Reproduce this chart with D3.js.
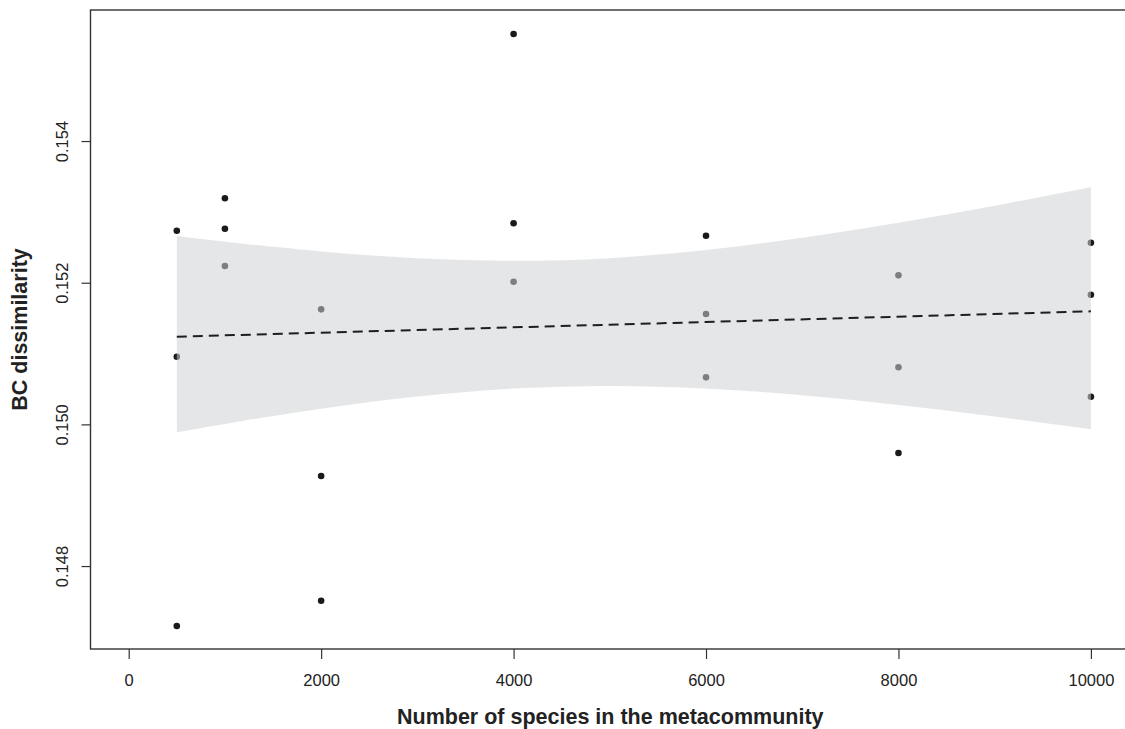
<!DOCTYPE html>
<html>
<head>
<meta charset="utf-8">
<script src="https://cdn.jsdelivr.net/npm/d3@7"></script>
<style>
  body { margin: 0; background: #fff; }
  svg { display: block; font-family: "Liberation Sans", Arial, sans-serif; }
</style>
</head>
<body>
<script>
// species pool sizes and the BC dissimilarity of each run
var speciesX = [500, 500, 500, 1000, 1000, 1000, 2000, 2000, 2000,
    4000, 4000, 4000, 6000, 6000, 6000, 8000, 8000, 8000, 10000, 10000, 10000];
var dissimY = [0.152734, 0.150955, 0.147153, 0.153192, 0.152762, 0.152236,
    0.151624, 0.149271, 0.147510, 0.155511, 0.152839, 0.152014,
    0.152664, 0.151558, 0.150664, 0.152104, 0.150806, 0.149596,
    0.152565, 0.151831, 0.150391];

// fitted line end points
var fitX = [500, 10000];
var fitY = [0.151238, 0.151596];

// confidence band
var bandX = [500, 1000, 2000, 3000, 4000, 5000, 6000, 7000, 8000, 9000, 10000];
var bandUpper = [0.152658, 0.152579, 0.152442, 0.152346, 0.152309, 0.152347,
    0.152462, 0.152634, 0.152847, 0.153087, 0.153347];
var bandLower = [0.149888, 0.150007, 0.150220, 0.150392, 0.150505, 0.150543,
    0.150508, 0.150412, 0.150275, 0.150111, 0.149930];

var xTicks = [0, 2000, 4000, 6000, 8000, 10000];
var yTicks = [0.148, 0.150, 0.152, 0.154];

var width = 1125,
    height = 729;
var box = { left: 90.5, top: 10, right: 1130, bottom: 649 };

var svg = d3.select("body")
    .append("svg")
    .attr("width", width)
    .attr("height", height);

var x = d3.scaleLinear().domain([0, 10000]).range([128.7, 1090.9]);
var y = d3.scaleLinear().domain([0.146829, 0.15585]).range([box.bottom, box.top]);

// points first, the band is laid over them
svg.append("g")
    .selectAll("circle")
    .data(speciesX)
    .join("circle")
    .attr("cx", function (d) { return x(d); })
    .attr("cy", function (d, i) { return y(dissimY[i]); })
    .attr("r", 3.3)
    .attr("fill", "#1a1a1a");

var band = d3.area()
    .x(function (d) { return x(d); })
    .y0(function (d, i) { return y(bandLower[i]); })
    .y1(function (d, i) { return y(bandUpper[i]); })
    .curve(d3.curveNatural);

svg.append("path")
    .datum(bandX)
    .attr("d", band)
    .attr("fill", "#cfd1d4")
    .attr("fill-opacity", 0.55);

var fitLine = d3.line()
    .x(function (d) { return x(d); })
    .y(function (d, i) { return y(fitY[i]); });

svg.append("path")
    .datum(fitX)
    .attr("d", fitLine)
    .attr("fill", "none")
    .attr("stroke", "#1e1e1e")
    .attr("stroke-width", 2)
    .attr("stroke-dasharray", "10,6");

// frame
svg.append("rect")
    .attr("x", box.left)
    .attr("y", box.top)
    .attr("width", box.right - box.left)
    .attr("height", box.bottom - box.top)
    .attr("fill", "none")
    .attr("stroke", "#333")
    .attr("stroke-width", 1.4);

// x axis
var xAxis = svg.append("g")
    .attr("transform", "translate(0," + box.bottom + ")")
    .call(d3.axisBottom(x).tickValues(xTicks).tickSize(10).tickPadding(15).tickFormat(d3.format("d")));
xAxis.select(".domain").remove();
xAxis.selectAll("line").attr("stroke", "#333").attr("stroke-width", 1.2);
xAxis.selectAll("text")
    .attr("fill", "#222")
    .style("font-size", "16.5px")
    .style("font-family", "Liberation Sans, Arial, sans-serif");

// y axis, labels turned like the original
var yAxis = svg.append("g")
    .attr("transform", "translate(" + box.left + ",0)")
    .call(d3.axisLeft(y).tickValues(yTicks).tickSize(9).tickFormat(d3.format(".3f")));
yAxis.select(".domain").remove();
yAxis.selectAll("line").attr("stroke", "#333").attr("stroke-width", 1.2);
yAxis.selectAll("text")
    .attr("x", null)
    .attr("dy", null)
    .attr("text-anchor", "middle")
    .attr("transform", "translate(-22.5,0) rotate(-90)")
    .attr("fill", "#222")
    .style("font-size", "16.5px")
    .style("font-family", "Liberation Sans, Arial, sans-serif");

// axis titles
svg.append("text")
    .attr("x", (box.left + box.right) / 2)
    .attr("y", 724)
    .attr("text-anchor", "middle")
    .style("font-weight", "bold")
    .style("font-size", "21.5px")
    .attr("fill", "#222")
    .text("Number of species in the metacommunity");

svg.append("text")
    .attr("transform", "translate(27," + (box.top + box.bottom) / 2 + ") rotate(-90)")
    .attr("text-anchor", "middle")
    .style("font-weight", "bold")
    .style("font-size", "21.5px")
    .attr("fill", "#222")
    .text("BC dissimilarity");
</script>
</body>
</html>
